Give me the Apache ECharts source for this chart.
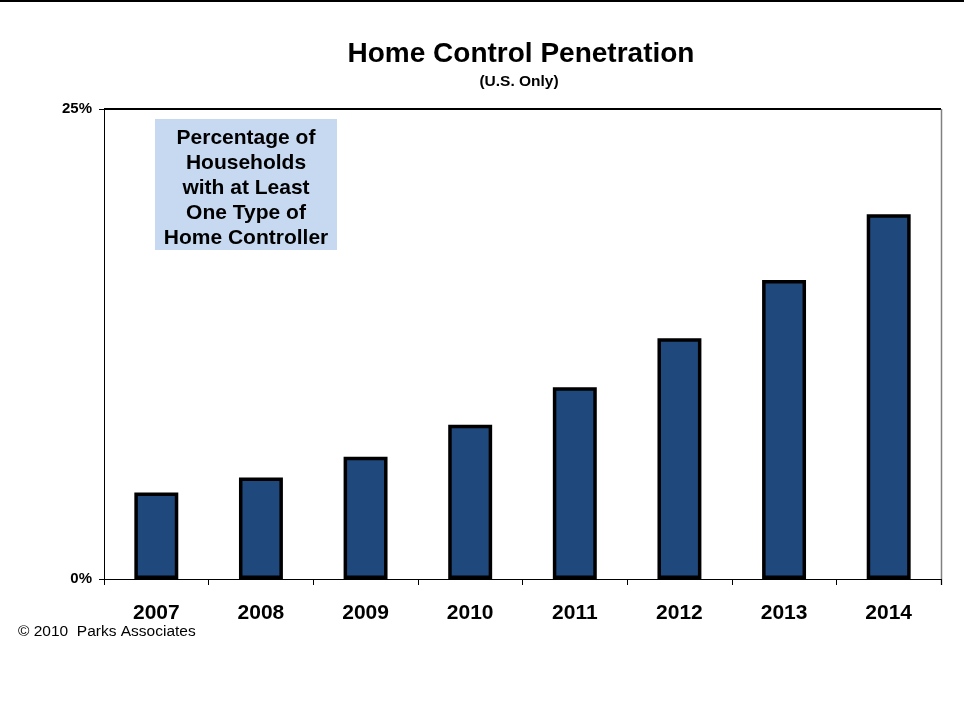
<!DOCTYPE html>
<html><head><meta charset="utf-8">
<script src="https://cdn.jsdelivr.net/npm/echarts@6/dist/echarts.min.js"></script>
<style>html,body{margin:0;padding:0;background:#fff}#c{width:964px;height:707px}</style>
</head><body><div id="c"></div>
<script>
var categories = ['2007','2008','2009','2010','2011','2012','2013','2014'];
var penetration = [4.6, 5.4, 6.5, 8.2, 10.2, 12.8, 15.9, 19.4];
var yTicks = [0, 25];
var titleText = 'Home Control Penetration';
var subtitleText = '(U.S. Only)';
var boxText = 'Percentage of\nHouseholds\nwith at Least\nOne Type of\nHome Controller';
var credit = '\u00a9 2010  Parks Associates';

var chart = echarts.init(document.getElementById('c'));
var gl = 104, gr = 23, gt = 109, gb = 128;
chart.setOption({
  animation: false,
  title: [{
    text: titleText, left: 516, top: 35, textAlign: 'center',
    textStyle: {fontFamily: 'Liberation Sans', fontWeight: 'bold', fontSize: 28, color: '#000'}
  }, {
    text: subtitleText, left: 514, top: 69, textAlign: 'center',
    textStyle: {fontFamily: 'Liberation Sans', fontWeight: 'bold', fontSize: 15.5, color: '#000'}
  }],
  grid: {left: gl, right: gr, top: gt, bottom: gb},
  xAxis: {
    type: 'category', data: categories,
    axisLine: {lineStyle: {color: '#000', width: 1}},
    axisTick: {show: true, length: 6, lineStyle: {color: '#000'}},
    axisLabel: {fontFamily: 'Liberation Sans', fontWeight: 'bold', fontSize: 21, color: '#000', margin: 24}
  },
  yAxis: {
    type: 'value', min: yTicks[0], max: yTicks[1], interval: 25,
    axisLine: {show: true, lineStyle: {color: '#000', width: 1}},
    axisTick: {show: true, length: 5, lineStyle: {color: '#000'}},
    splitLine: {show: false},
    axisLabel: {fontFamily: 'Liberation Sans', fontWeight: 'bold', fontSize: 15, color: '#000', margin: 12,
      formatter: function(v){return v + '%';}}
  },
  series: [{
    type: 'bar', data: penetration, barWidth: '42%',
    itemStyle: {color: '#1f497d', borderColor: '#000', borderWidth: 3.5}
  }],
  graphic: [
    {type: 'rect', shape: {x: 0, y: 0, width: 964, height: 2}, style: {fill: '#000'}},
    {type: 'line', shape: {x1: gl, y1: gt, x2: 964 - gr, y2: gt}, style: {stroke: '#000', lineWidth: 2}},
    {type: 'line', shape: {x1: 964 - gr + 0.5, y1: gt, x2: 964 - gr + 0.5, y2: 707 - gb + 6}, style: {stroke: '#808080', lineWidth: 1.5}},
    {type: 'rect', shape: {x: 155, y: 119, width: 182, height: 131}, style: {fill: '#c6d9f1'}},
    {type: 'text', x: 246, y: 188, style: {text: boxText, align: 'center', verticalAlign: 'middle',
      font: 'bold 21px "Liberation Sans"', lineHeight: 25, fill: '#000'}},
    {type: 'text', x: 18, y: 632, style: {text: credit, align: 'left', verticalAlign: 'middle',
      font: '15.5px "Liberation Sans"', fill: '#000'}}
  ]
});
</script></body></html>
